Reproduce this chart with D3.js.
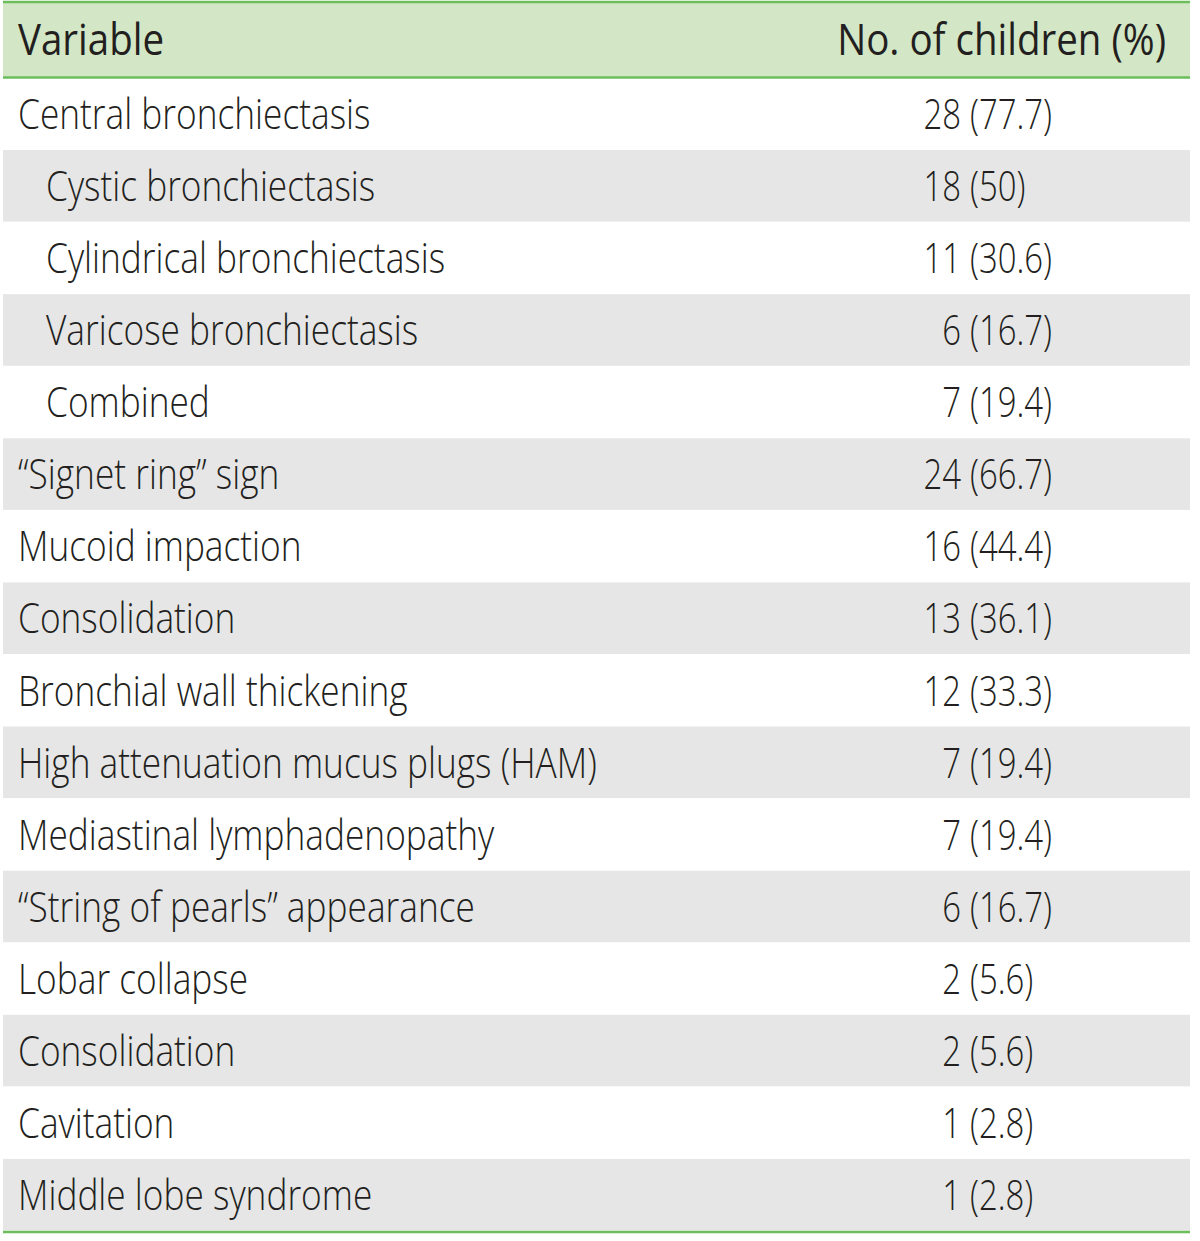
<!DOCTYPE html>
<html><head><meta charset="utf-8">
<script src="https://cdn.jsdelivr.net/npm/d3@7"></script>
<style>body{margin:0;background:#fff}svg{display:block}</style>
</head><body>
<div id="chart"></div>
<script>
const headers = ["Variable", "No. of children (%)"];
const variables = ["Central bronchiectasis","Cystic bronchiectasis","Cylindrical bronchiectasis","Varicose bronchiectasis","Combined","\u201CSignet ring\u201D sign","Mucoid impaction","Consolidation","Bronchial wall thickening","High attenuation mucus plugs (HAM)","Mediastinal lymphadenopathy","\u201CString of pearls\u201D appearance","Lobar collapse","Consolidation","Cavitation","Middle lobe syndrome"];
const indented = [false,true,true,true,true,false,false,false,false,false,false,false,false,false,false,false];
const counts = [28,18,11,6,7,24,16,13,12,7,7,6,2,2,1,1];
const percents = ["77.7","50","30.6","16.7","19.4","66.7","44.4","36.1","33.3","19.4","19.4","16.7","5.6","5.6","2.8","2.8"];

(function(){
const W = 1200, H = 1241;
const x0 = 3, x1 = 1190, y0 = 2, headH = 75, rowH = 72.06;
const fs = 43, sx = 0.82, sxNum = 0.765;
const fsH = 44, sxH = 0.875;
const ink = "#231f20";
const svg = d3.select("#chart").append("svg").attr("width", W).attr("height", H);

const y = d3.scaleBand().domain(d3.range(variables.length)).range([y0 + headH + 1, y0 + headH + 1 + rowH * variables.length]).paddingInner(0);

svg.append("rect").attr("x", x0).attr("y", y0).attr("width", x1 - x0).attr("height", headH).attr("fill", "#d3e7c6");
svg.append("line").attr("x1", x0).attr("x2", x1).attr("y1", y0).attr("y2", y0).attr("stroke", "#6cbd5b").attr("stroke-width", 2.5);
svg.append("line").attr("x1", x0).attr("x2", x1).attr("y1", y0 + headH + 0.5).attr("y2", y0 + headH + 0.5).attr("stroke", "#6cbd5b").attr("stroke-width", 2.5);

const hy = y0 + headH / 2 + 15.5;
svg.append("text").attr("transform", `translate(18,${hy}) scale(${sxH},1)`).attr("font-family", "Open Sans").attr("font-size", fsH).attr("font-weight", 400).attr("fill", ink).text(headers[0]);
svg.append("text").attr("transform", `translate(1166,${hy}) scale(${sxH},1)`).attr("text-anchor", "end").attr("font-family", "Open Sans").attr("font-size", fsH).attr("font-weight", 400).attr("fill", ink).text(headers[1]);

const rows = svg.selectAll("g.row").data(variables).join("g").attr("class", "row")
  .attr("transform", (d, i) => `translate(0,${y(i)})`);
rows.filter((d, i) => i % 2 === 1).append("rect").attr("x", x0).attr("y", 0).attr("width", x1 - x0).attr("height", y.bandwidth() - 0.5).attr("fill", "#e6e6e6");
const ty = y.bandwidth() / 2 + 15;
rows.append("text").attr("transform", (d, i) => `translate(${indented[i] ? 46 : 18},${ty}) scale(${sx},1)`)
  .attr("font-family", "Open Sans").attr("font-size", fs).attr("font-weight", 300).attr("fill", ink).text(d => d);
rows.append("text").attr("transform", `translate(961,${ty}) scale(${sxNum},1)`).attr("text-anchor", "end")
  .attr("font-family", "Open Sans").attr("font-size", fs).attr("font-weight", 300).attr("fill", ink).text((d, i) => counts[i]);
rows.append("text").attr("transform", `translate(970,${ty}) scale(${sxNum},1)`)
  .attr("font-family", "Open Sans").attr("font-size", fs).attr("font-weight", 300).attr("fill", ink).text((d, i) => `(${percents[i]})`);

svg.append("line").attr("x1", x0).attr("x2", x1).attr("y1", y.range()[1] + 1).attr("y2", y.range()[1] + 1).attr("stroke", "#6cbd5b").attr("stroke-width", 2.5);
})();
</script>
</body></html>
